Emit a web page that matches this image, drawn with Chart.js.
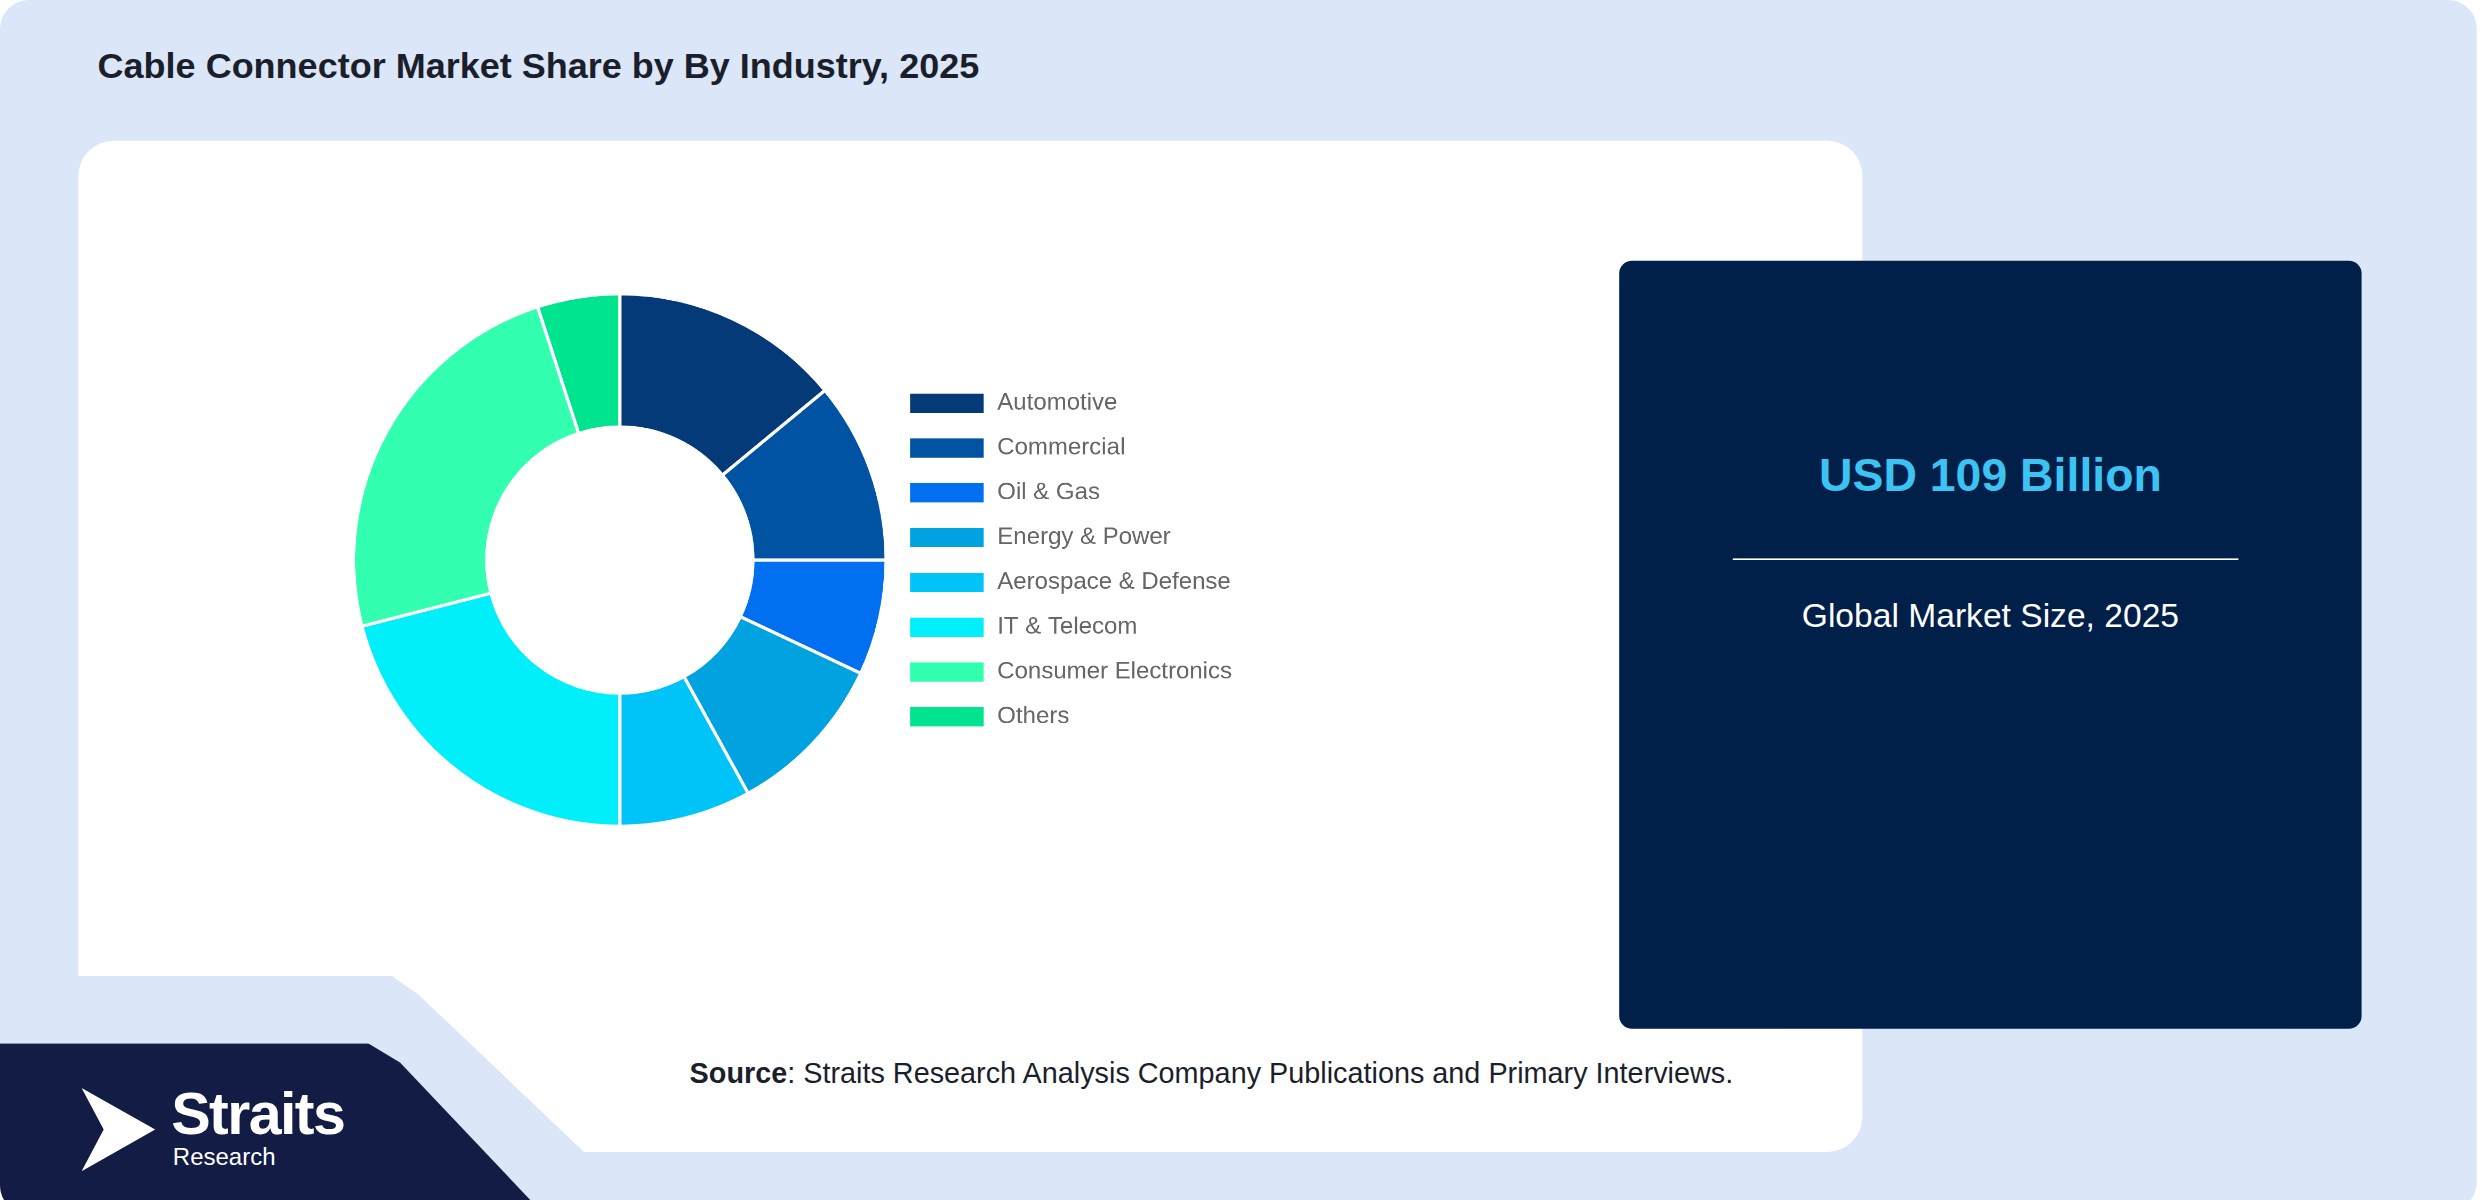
<!DOCTYPE html>
<html><head><meta charset="utf-8">
<script src="https://cdn.jsdelivr.net/npm/chart.js@4"></script>
<style>
html,body{margin:0;padding:0;background:#fff;width:2480px;height:1200px;overflow:hidden;font-family:"Liberation Sans",Arial,sans-serif}
#s{position:absolute;left:0;top:0;width:1550px;height:759px;transform:scale(1.6);transform-origin:0 0}
.bg{position:absolute;left:0;top:0;width:1548px;height:757px;background:#dbe7f8;border-radius:18px}
.title{position:absolute;left:61px;top:29px;font-size:22.5px;font-weight:bold;color:#1a1f2b}
.card{position:absolute;left:49px;top:88px;width:1115px;height:632px;background:#fff;border-radius:22px}
.cut{position:absolute;left:0;top:0;width:400px;height:759px;background:#dbe7f8;clip-path:polygon(0 610px,245px 610px,262px 622px,365px 720px,0 720px)}
.dark{position:absolute;left:1012px;top:163px;width:464px;height:480px;background:#001f49;border-radius:8px;color:#fff;text-align:center}
.logo{position:absolute;left:0;top:652px;width:340px;height:107px;background:#121c44;clip-path:polygon(0 0,230px 0,250px 12px,340px 107px,0 107px);border-bottom-left-radius:18px}
#cw{position:absolute;left:220px;top:181px;width:560px;height:338px}
</style></head><body>
<div id="s">
<div class="bg"></div>
<div class="title">Cable Connector Market Share by By Industry, 2025</div>
<div class="card"></div>
<div class="cut"></div>
<div class="dark">
 <div style="position:absolute;top:118px;width:100%;font-size:29px;font-weight:bold;color:#3cc3f2">USD 109 Billion</div>
 <div style="position:absolute;top:186px;left:71px;width:316px;height:1px;background:#fff"></div>
 <div style="position:absolute;top:210px;width:100%;font-size:21px">Global Market Size, 2025</div>
</div>
<div style="position:absolute;left:431px;top:661px;font-size:18px;color:#1a1f2b"><b>Source</b>: Straits Research Analysis Company Publications and Primary Interviews.</div>
<div class="logo">
 <div style="position:absolute;left:51px;top:28px;width:46px;height:52px;background:#fff;clip-path:polygon(0 0,100% 50%,0 100%,30% 50%)"></div>
 <div style="position:absolute;left:107px;top:24px;font-size:37px;font-weight:bold;color:#fff;letter-spacing:-1px">Straits</div>
 <div style="position:absolute;left:108px;top:62px;font-size:15px;color:#fff">Research</div>
</div>
<div id="cw"><canvas id="c"></canvas></div>
</div>
<script>
const categories=["Automotive","Commercial","Oil & Gas","Energy & Power","Aerospace & Defense","IT & Telecom","Consumer Electronics","Others"];
const shares=[14,11,7,10,8,21,24,5];
const colors=["#053a78","#0052a3","#006ff0","#00a2e0","#00c4f8","#00effa","#33ffb0","#00e38f"];
new Chart(document.getElementById('c'),{type:'doughnut',
data:{labels:categories,datasets:[{data:shares,backgroundColor:colors,borderColor:'#fff',borderWidth:2}]},
options:{responsive:true,maintainAspectRatio:false,devicePixelRatio:3,animation:false,cutout:'50%',
layout:{padding:0},
plugins:{tooltip:{enabled:false},legend:{position:'right',align:'center',
labels:{boxWidth:48,boxHeight:14,padding:13,color:'#666',font:{size:15,family:'"Liberation Sans",Arial'}}}}}});
</script>
</body></html>
